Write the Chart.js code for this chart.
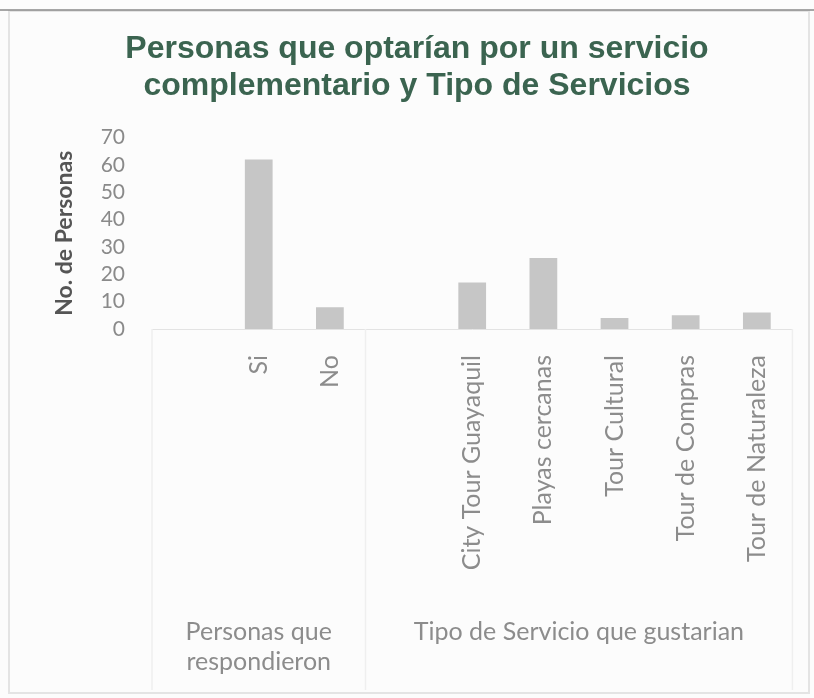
<!DOCTYPE html>
<html>
<head>
<meta charset="utf-8">
<script src="https://cdn.jsdelivr.net/npm/chart.js@4/dist/chart.umd.min.js"></script>
<style>
  html, body { margin: 0; padding: 0; background: #ffffff; }
  #wrap { width: 814px; height: 698px; position: relative; }
</style>
</head>
<body>
<div id="wrap"><canvas id="c" width="814" height="698"></canvas></div>
<script>
// ---- data ----
const categories = ['', 'Si', 'No', '', 'City Tour Guayaquil', 'Playas cercanas', 'Tour Cultural', 'Tour de Compras', 'Tour de Naturaleza'];
const personas = [null, 62, 8, null, 17, 26, 4, 5, 6];
const groupLabels = [['Personas que', 'respondieron'], ['Tipo de Servicio que gustarian']];
const groupStart = [0, 3];
const groupEnd = [2, 8];
const titleLines = ['Personas que optarían por un servicio', 'complementario y Tipo de Servicios'];
const yTitle = 'No. de Personas';
const yMin = 0, yMax = 70, yStep = 10;

const frameAndGroups = {
  id: 'frameAndGroups',
  beforeDraw(chart) {
    const ctx = chart.ctx;
    ctx.save();
    ctx.fillStyle = '#fcfcfc';
    ctx.fillRect(0, 0, chart.width, chart.height);
    ctx.strokeStyle = '#e4e4e4';
    ctx.lineWidth = 2;
    ctx.strokeRect(9, 11, chart.width - 14, chart.height - 16);
    ctx.strokeStyle = '#8a8a8a';
    ctx.lineWidth = 1.5;
    ctx.beginPath(); ctx.moveTo(0, 10); ctx.lineTo(chart.width, 10); ctx.stroke();
    ctx.restore();
  },
  afterDraw(chart) {
    const ctx = chart.ctx;
    const x = chart.scales.x;
    const half = (x.getPixelForValue(1) - x.getPixelForValue(0)) / 2;
    ctx.save();
    // group divider lines
    ctx.strokeStyle = '#efefef';
    ctx.lineWidth = 1.5;
    const bounds = [groupStart[0], groupStart[1], groupEnd[1] + 1];
    bounds.forEach(i => {
      const px = x.getPixelForValue(i) - half;
      ctx.beginPath(); ctx.moveTo(px, x.top); ctx.lineTo(px, chart.height - 8); ctx.stroke();
    });
    // group labels
    ctx.fillStyle = '#8c8c8c';
    ctx.font = '25px Lato';
    ctx.textAlign = 'center';
    ctx.textBaseline = 'middle';
    groupLabels.forEach((lines, g) => {
      const cx = (x.getPixelForValue(groupStart[g]) + x.getPixelForValue(groupEnd[g])) / 2;
      lines.forEach((t, k) => ctx.fillText(t, cx, 632 + k * 30));
    });
    ctx.restore();
  }
};

new Chart(document.getElementById('c'), {
  type: 'bar',
  data: {
    labels: categories,
    datasets: [{
      data: personas,
      backgroundColor: '#c6c6c6',
      borderWidth: 0,
      barPercentage: 0.39,
      categoryPercentage: 1
    }]
  },
  options: {
    responsive: false,
    animation: false,
    layout: { padding: { left: 41, right: 21, top: 0, bottom: 0 } },
    plugins: {
      legend: { display: false },
      tooltip: { enabled: false },
      title: {
        display: true,
        text: titleLines,
        color: '#3b6450',
        font: { family: 'Liberation Sans', size: 32, weight: 'bold', lineHeight: 1.15 },
        padding: { top: 31, bottom: 33 }
      }
    },
    scales: {
      x: {
        afterFit: s => { s.height = 369; },
        grid: { display: false, drawTicks: false },
        border: { display: true, color: '#e3e3e3', width: 1 },
        ticks: {
          autoSkip: false,
          minRotation: 90,
          maxRotation: 90,
          padding: 26,
          color: '#8c8c8c',
          font: { family: 'Lato', size: 25 }
        }
      },
      y: {
        min: yMin, max: yMax,
        afterFit: s => { s.width = 111; },
        grid: { display: false, drawTicks: false },
        border: { display: false },
        ticks: {
          autoSkip: false,
          stepSize: yStep,
          padding: 27,
          color: '#8a8a8a',
          font: { family: 'Lato', size: 21 }
        },
        title: {
          display: true,
          text: yTitle,
          color: '#555555',
          font: { family: 'Lato', size: 23, weight: 'bold' },
          padding: { top: 10, bottom: 0 }
        }
      }
    }
  },
  plugins: [frameAndGroups]
});
</script>
</body>
</html>
